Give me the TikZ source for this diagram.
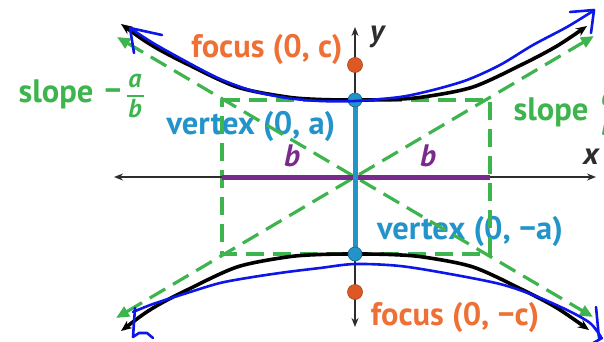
\documentclass[tikz,border=0pt]{standalone}
\usepackage{fontspec}
\setmainfont{PT Sans}
\usetikzlibrary{arrows.meta}
\definecolor{grn}{RGB}{62,180,78}
\definecolor{org}{RGB}{238,112,52}
\definecolor{orgdot}{RGB}{222,88,36}
\definecolor{vblue}{RGB}{34,148,202}
\definecolor{purp}{RGB}{122,42,140}
\definecolor{hblue}{RGB}{12,22,232}
\definecolor{axcol}{RGB}{45,45,45}
\begin{document}
\begin{tikzpicture}[x=1pt,y=-1pt,
  lbl/.style={inner sep=0pt, font=\fontsize{32.5}{34}\selectfont\bfseries},
  ilbl/.style={inner sep=0pt, font=\fontsize{31}{32}\selectfont\bfseries\itshape},
  frac/.style={inner sep=0pt, font=\fontsize{26}{26}\selectfont\bfseries\itshape, text=grn},
  asym/.style={grn, line width=3.2pt, dash pattern=on 18pt off 9pt,
     {Triangle[length=13pt,width=11pt]}-{Triangle[length=13pt,width=11pt]}},
  rectdash/.style={grn, line width=3.2pt, dash pattern=on 18pt off 9pt},
  axisline/.style={axcol, line width=1.8pt, {Stealth[length=9pt,width=7pt]}-{Stealth[length=9pt,width=7pt]}},
  hyp/.style={black, line width=3.6pt, {Stealth[length=11pt,width=9pt]}-{Stealth[length=11pt,width=9pt]}},
  hand/.style={hblue, line width=2.6pt, line cap=round, line join=round},
  vdot/.style={circle, fill=vblue, draw=vblue!70!black, line width=0.6pt, minimum size=14pt, inner sep=0pt},
  fdot/.style={circle, fill=orgdot, draw=orgdot!75!black, line width=0.6pt, minimum size=15pt, inner sep=0pt}
]
\useasboundingbox (0,0) rectangle (604,342);
\clip (0,0) rectangle (604,342);

% key points
\coordinate (O) at (355,177);
\coordinate (V1) at (355,100);
\coordinate (V2) at (355,254);
\coordinate (F1) at (355,65);
\coordinate (F2) at (355,292);
\coordinate (RTL) at (222,100);
\coordinate (RTR) at (490,100);
\coordinate (RBL) at (222,254);
\coordinate (RBR) at (490,254);
\coordinate (AL1) at (117,37);
\coordinate (AR2) at (593,317);
\coordinate (AL2) at (116,318);
\coordinate (AR1) at (594,36);
\coordinate (XL) at (114,177);
\coordinate (XR) at (596,177);
\coordinate (YT) at (355,27);
\coordinate (YB) at (355,327);
\coordinate (BL) at (222,177);
\coordinate (BR) at (490,177);

% labels
\node[lbl, text=org] (fc) at (267,49) {focus (0, c)};
\node[lbl, text=org] (fmc) at (455,317) {focus (0, −c)};
\node[lbl, text=vblue] (va) at (251,126) {vertex (0, a)};
\node[lbl, text=vblue] (vma) at (470,231) {vertex (0, −a)};
\node[lbl, text=grn] (sl1) at (56,94) {slope};
\node[lbl, text=grn] (mn1) at (113,95) {−};
\node[frac] (fa1) at (135,81) {a};
\node[frac] (fb1) at (135,109) {b};
\draw[grn, line width=2pt] (127,96) -- (144,96);
\node[lbl, text=grn] (sl2) at (551,112) {slope};
\node[frac] (fa2) at (608,99) {a};
\node[frac] (fb2) at (608,127) {b};
\node[ilbl, text=purp] (b1) at (292,156) {b};
\node[ilbl, text=purp] (b2) at (428,156) {b};
\node[ilbl, text=axcol] (xl) at (591,157) {x};
\node[ilbl, text=axcol] (yl) at (377,37) {y};

% dashed rectangle and asymptotes
\draw[rectdash] (RTL) -- (RTR) -- (RBR) -- (RBL) -- cycle;
\draw[asym] (AL1) -- (AR2);
\draw[asym] (AL2) -- (AR1);

% axes
\draw[axisline] (XL) -- (XR);
\draw[axisline] (YB) -- (YT);

% hyperbola branches
\draw[hyp] plot[smooth] coordinates {(121,24) (153,46) (187,64) (237,87) (287,97) (320,99.5) (355,100) (390,99.5) (423,97) (473,87) (523,64) (557,46) (587,26)};
\draw[hyp] plot[smooth] coordinates {(121,331) (153,308) (187,290) (237,267) (287,257) (320,254.5) (355,254) (390,254.5) (423,257) (473,267) (523,290) (557,308) (589,330)};

% purple b segment and blue a segment
\draw[purp, line width=5pt] (BL) -- (BR);
\draw[vblue, line width=5pt] (V1) -- (V2);
\node[vdot] (v1) at (V1) {};
\node[vdot] (v2) at (V2) {};
\node[fdot] (f1) at (F1) {};
\node[fdot] (f2) at (F2) {};

% hand-drawn blue annotations
\draw[hand] plot[smooth] coordinates {(130,28) (153,43) (187,62) (220,79) (253,91) (287,98) (320,101) (355,101) (400,97) (433,90) (467,80) (500,65) (533,45) (567,27) (593,11)};
\draw[hand] (162,35) -- (130,28) -- (134,53);
\draw[hand] (570,12) -- (594,10) -- (591,33);
\draw[hand] plot[smooth] coordinates {(133,312) (153,304) (187,293) (220,283) (253,277) (287,272) (320,268) (355,264) (400,266) (450,274) (500,284) (533,295) (567,310) (590,323) (601,337)};
\draw[hand] (135,308) -- (133,337) -- (139,333) -- (147,333) -- (153,338);
\draw[hand] (596,307) -- (599,338);
\draw[hand] (588,346) -- (602,338);
\end{tikzpicture}
\end{document}
